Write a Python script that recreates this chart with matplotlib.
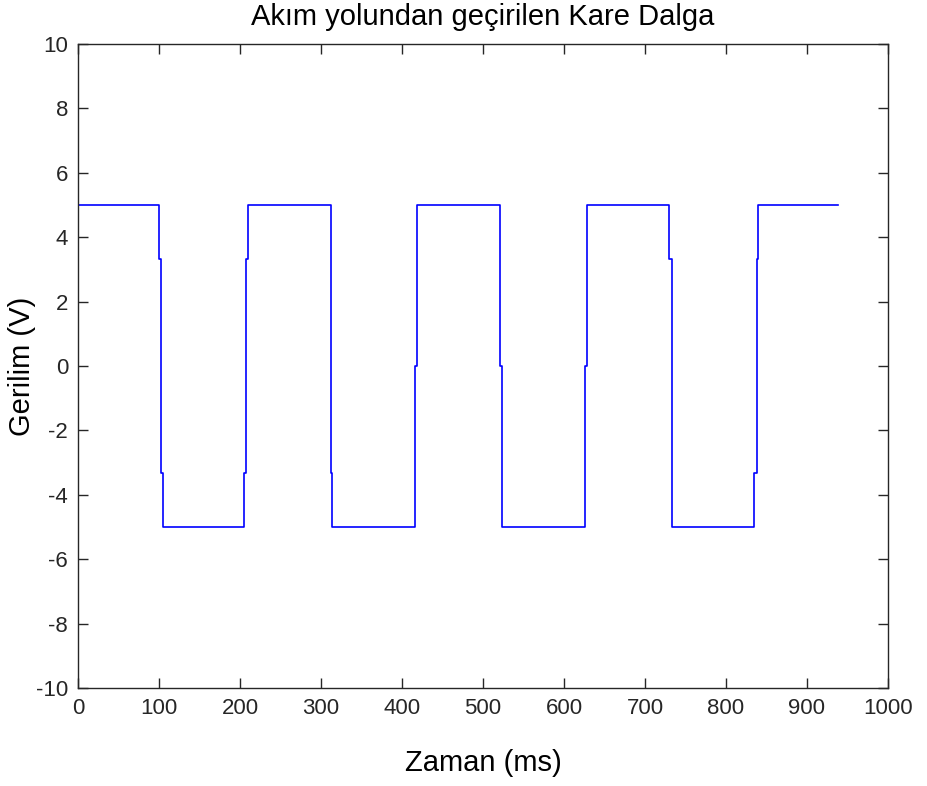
import matplotlib.pyplot as plt

# sampled square wave vertices (ms, V)
time_ms = [0, 100, 100, 103, 103, 105, 105,
           205, 205, 208, 208, 210, 210,
           312, 312, 314, 314,
           416, 416, 419, 419,
           521, 521, 523, 523,
           626, 626, 628, 628,
           730, 730, 733, 733,
           835, 835, 838, 838, 840, 840, 938]
voltage = [5, 5, 3.33, 3.33, -3.33, -3.33, -5,
           -5, -3.33, -3.33, 3.33, 3.33, 5,
           5, -3.33, -3.33, -5,
           -5, 0, 0, 5,
           5, 0, 0, -5,
           -5, 0, 0, 5,
           5, 3.33, 3.33, -5,
           -5, -3.33, -3.33, 3.33, 3.33, 5, 5]

x_ticks = list(range(0, 1001, 100))
y_ticks = list(range(-10, 11, 2))

plt.rcParams['font.family'] = ['Liberation Sans', 'DejaVu Sans']
plt.rcParams['axes.unicode_minus'] = False

fig = plt.figure(figsize=(9.27, 7.86), dpi=100)
ax = fig.add_axes([0.0841, 0.1247, 0.8738, 0.8193])

ax.plot(time_ms, voltage, color='#0000ff', linewidth=1.2)

ax.set_xlim(0, 1000)
ax.set_ylim(-10, 10)
ax.set_xticks(x_ticks)
ax.set_yticks(y_ticks)
ax.tick_params(direction='in', length=7, width=1, top=True, right=True,
               labelsize=16, pad=7, colors='#262626')
for s in ax.spines.values():
    s.set_color('#262626')
    s.set_linewidth(1)

ax.set_title('Akım yolundan geçirilen Kare Dalga', fontsize=21, pad=14)
ax.set_xlabel('Zaman (ms)', fontsize=21)
ax.set_ylabel('Gerilim (V)', fontsize=21)
ax.xaxis.set_label_coords(0.5, -0.095)
ax.yaxis.set_label_coords(-0.052, 0.5)

fig.savefig('out.png', dpi=100)
